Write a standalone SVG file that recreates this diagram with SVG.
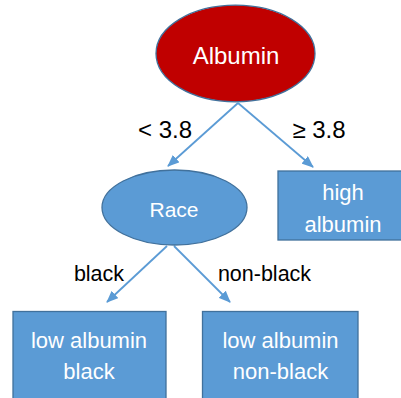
<svg xmlns="http://www.w3.org/2000/svg" width="401" height="398" viewBox="0 0 401 398">
<defs>
<style>
.box{fill:#5B9BD5;stroke:#41719C;stroke-width:1.3}
.red{fill:#C00000;stroke:#41719C;stroke-width:1.3}
.lbl{font-family:"Liberation Sans",Arial,sans-serif;fill:#FFFFFF;text-anchor:middle}
.edge{font-family:"Liberation Sans",Arial,sans-serif;fill:#000000;text-anchor:middle}
.conn{stroke:#5B9BD5;stroke-width:1.8;fill:none;marker-end:url(#arr)}
</style>
<marker id="arr" markerUnits="userSpaceOnUse" markerWidth="12" markerHeight="10" viewBox="0 0 12 10" refX="11" refY="5" orient="auto">
<path d="M0,0 L12,5 L0,10 Z" fill="#5B9BD5"/>
</marker>
</defs>
<rect width="401" height="398" fill="#FFFFFF"/>
<g id="connectors">
<line class="conn" x1="238" y1="103" x2="168" y2="166"/>
<line class="conn" x1="238" y1="103" x2="313" y2="167"/>
<line class="conn" x1="167" y1="246" x2="107" y2="302"/>
<line class="conn" x1="174" y1="246" x2="230" y2="302"/>
<text class="edge" x="165" y="138" font-size="24">&lt; 3.8</text>
<text class="edge" x="319" y="138" font-size="24">≥ 3.8</text>
<text class="edge" x="99" y="281" font-size="21.5">black</text>
<text class="edge" x="264.5" y="281" font-size="21.5">non-black</text>
</g>
<g id="albumin">
<ellipse class="red" cx="235.5" cy="53.5" rx="79.5" ry="48.3"/>
<text class="lbl" x="236" y="64" font-size="24">Albumin</text>
</g>
<g id="race">
<ellipse class="box" cx="174.5" cy="207.5" rx="72.5" ry="37.5"/>
<text class="lbl" x="174" y="217" font-size="21">Race</text>
</g>
<g id="high-albumin">
<rect class="box" x="278" y="171" width="132" height="69"/>
<text class="lbl" x="343" y="200" font-size="22">high</text>
<text class="lbl" x="343" y="232" font-size="22">albumin</text>
</g>
<g id="low-albumin-black">
<rect class="box" x="13" y="311.5" width="153" height="90"/>
<text class="lbl" x="89" y="348" font-size="22">low albumin</text>
<text class="lbl" x="89" y="379" font-size="22">black</text>
</g>
<g id="low-albumin-non-black">
<rect class="box" x="202.5" y="311.5" width="155.5" height="90"/>
<text class="lbl" x="280.5" y="348" font-size="22">low albumin</text>
<text class="lbl" x="280.5" y="379" font-size="22">non-black</text>
</g>
</svg>
